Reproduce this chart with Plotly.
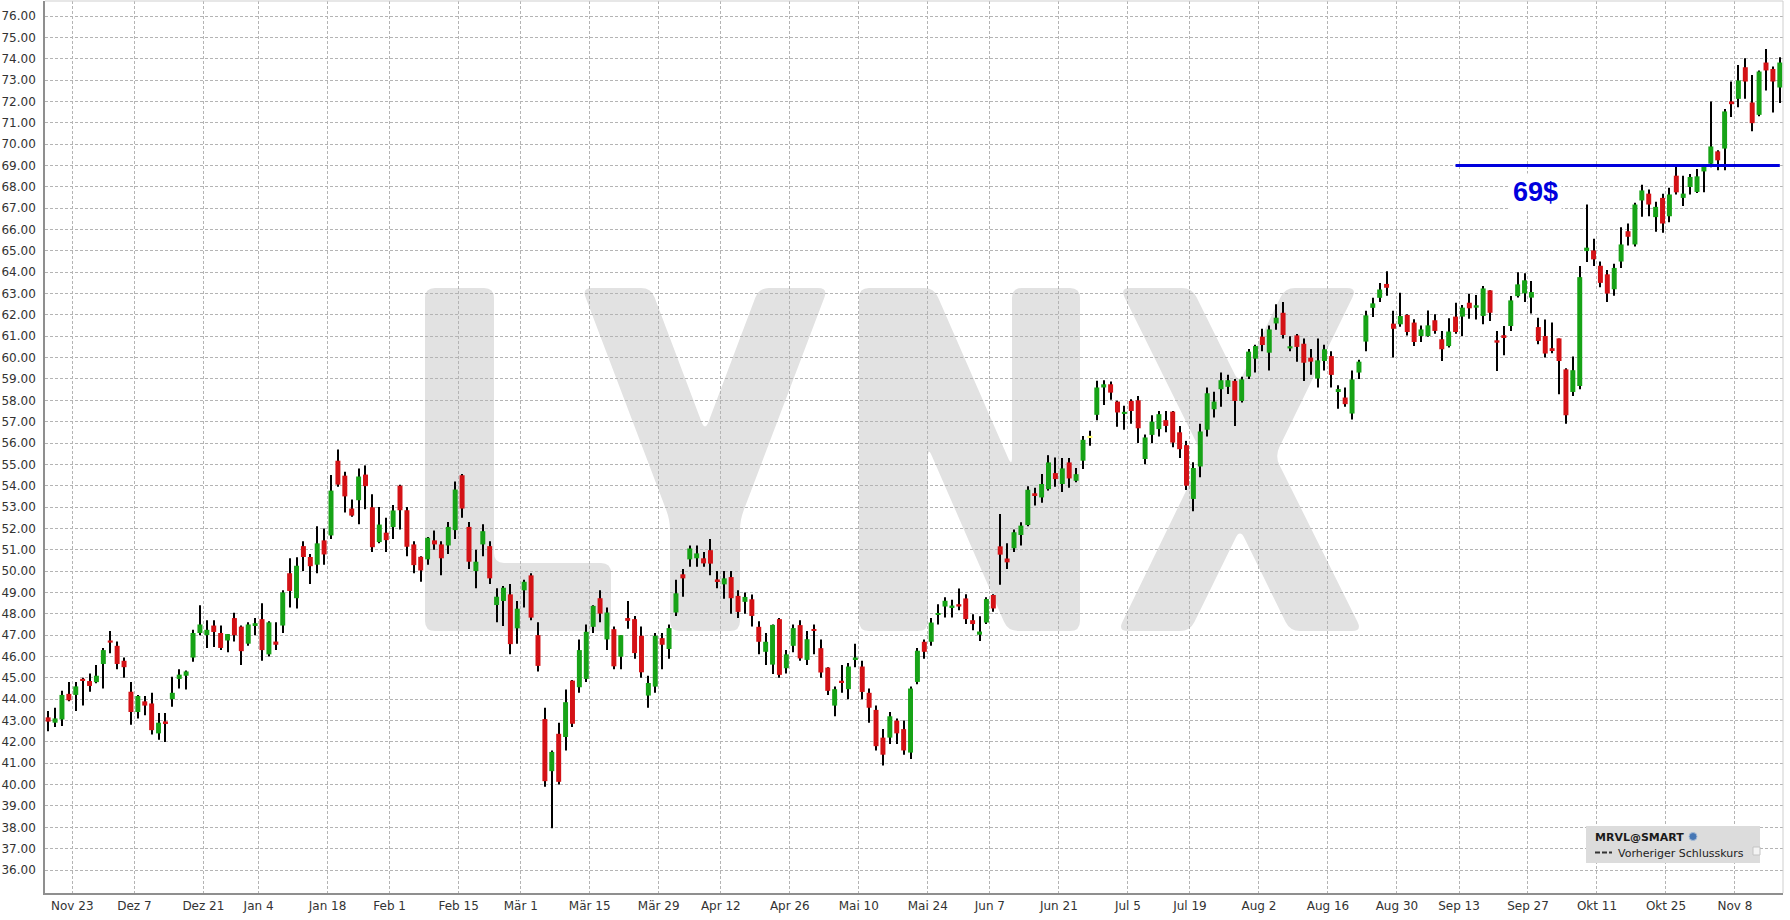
import math
import numpy as np
import pandas as pd
import plotly.graph_objects as go

# ---------------- data ----------------
first_day = "2020-11-17"
last_day = "2021-11-16"
market_holidays = ["2020-11-26", "2020-12-25", "2021-01-01", "2021-01-18", "2021-02-15",
                   "2021-04-02", "2021-05-31", "2021-07-05", "2021-09-06"]

opens = [
    43.15, 42.9, 43.05, 44.25, 44.2, 44.95, 44.85, 44.8, 45.65, 46.75,
    46.5, 45.8, 44.35, 43.4, 43.9, 43.8, 42.4, 42.95, 44.0, 44.95,
    45.1, 45.95, 47.1, 47.0, 47.45, 47.1, 46.75, 47.8, 47.4, 46.6,
    47.48, 47.75, 46.1, 46.7, 47.45, 49.9, 48.73, 51.17, 50.66, 50.3,
    51.44, 51.67, 55.17, 54.47, 52.93, 53.32, 54.52, 52.99, 51.36, 51.8,
    52.06, 54.0, 52.85, 51.25, 50.67, 50.55, 51.44, 51.25, 51.2, 51.92,
    54.49, 52.07, 50.0, 51.25, 51.17, 48.41, 48.6, 48.91, 47.32, 49.1,
    49.8, 47.0, 43.07, 40.63, 42.38, 42.23, 44.87, 44.56, 44.95, 47.39,
    48.73, 46.8, 47.28, 45.99, 47.8, 47.75, 46.97, 44.17, 44.59, 46.86,
    46.35, 48.06, 49.85, 50.55, 50.6, 50.6, 50.98, 49.6, 49.38, 49.72,
    48.84, 48.56, 48.68, 47.39, 46.22, 45.62, 47.75, 45.45, 46.5, 47.47,
    45.84, 47.28, 46.39, 45.48, 43.7, 44.86, 44.47, 45.87, 45.53, 44.3,
    43.5, 42.2, 42.2, 43.0, 42.6, 41.5, 44.81, 46.69, 46.69, 47.95,
    48.34, 48.3, 48.45, 48.72, 47.7, 47.02, 47.59, 48.88, 51.16, 50.59,
    51.07, 51.69, 52.16, 53.64, 53.45, 53.84, 54.59, 54.08, 55.09, 54.23,
    55.17, 56.29, 57.32, 58.6, 58.75, 57.94, 57.36, 57.97, 58.0, 55.25,
    56.38, 56.65, 57.07, 57.47, 56.5, 55.9, 53.38, 54.9, 56.62, 57.58,
    58.52, 58.63, 58.91, 57.97, 59.11, 59.95, 60.98, 60.23, 61.6, 62.1,
    60.43, 61.04, 60.65, 60.0, 59.02, 59.84, 60.07, 58.44, 58.13, 57.38,
    59.3, 60.75, 62.33, 62.8, 63.45, 61.59, 61.56, 62.0, 61.64, 61.01,
    61.01, 61.75, 60.86, 60.54, 61.92, 61.92, 62.57, 62.34, 61.95, 63.15,
    60.81, 61.04, 61.48, 62.88, 63.01, 62.81, 61.43, 61.01, 60.44, 60.9,
    59.45, 58.39, 58.67, 64.99, 65.02, 64.3, 63.9, 63.2, 64.5, 65.92,
    65.3, 67.36, 67.68, 66.58, 67.48, 66.62, 68.52, 67.48, 67.99, 67.76,
    68.72, 69.08, 69.66, 69.79, 72.0, 72.12, 73.6, 71.95, 71.37, 73.82,
    73.52, 72.65,
]
closes = [
    42.95, 43.1, 44.2, 43.95, 44.6, 44.87, 44.62, 45.1, 46.3, 46.65,
    45.65, 45.5, 43.4, 44.15, 43.7, 42.55, 42.9, 42.88, 44.3, 45.15,
    45.3, 47.1, 47.5, 47.25, 47.15, 46.4, 47.05, 47.0, 46.25, 47.5,
    47.55, 46.3, 47.6, 46.55, 49.0, 49.07, 50.25, 50.66, 50.23, 51.3,
    50.78, 53.77, 54.05, 53.5, 52.6, 54.43, 53.98, 51.12, 52.18, 51.45,
    52.84, 52.85, 51.14, 50.28, 50.03, 51.56, 51.25, 50.6, 52.07, 53.82,
    52.93, 50.44, 50.44, 51.87, 49.66, 48.8, 49.22, 46.58, 48.24, 49.5,
    47.82, 45.56, 40.16, 41.53, 40.13, 43.86, 42.85, 46.3, 47.16, 48.37,
    48.01, 48.06, 45.54, 47.0, 47.67, 46.16, 45.26, 44.76, 46.97, 46.55,
    47.33, 48.96, 49.66, 51.06, 50.83, 50.36, 50.35, 49.53, 49.66, 48.73,
    48.09, 48.79, 47.9, 46.69, 46.69, 47.48, 45.14, 46.1, 47.33, 45.91,
    46.81, 47.2, 45.25, 44.39, 44.47, 44.78, 45.53, 45.95, 44.34, 43.6,
    41.8, 41.4, 43.2, 42.4, 41.6, 44.5, 46.27, 46.22, 47.59, 48.03,
    48.61, 48.38, 48.34, 47.75, 47.52, 47.17, 48.69, 48.25, 50.77, 50.41,
    51.82, 52.13, 53.81, 53.56, 54.08, 55.09, 54.31, 54.81, 54.34, 54.54,
    56.15, 56.29, 58.6, 58.75, 58.36, 57.43, 57.46, 57.5, 56.69, 56.26,
    57.0, 57.35, 56.8, 56.02, 55.71, 54.0, 54.83, 56.54, 58.33, 57.94,
    58.94, 58.94, 57.97, 58.98, 60.28, 60.54, 60.59, 61.32, 61.87, 61.06,
    60.53, 60.5, 59.76, 59.81, 59.87, 60.39, 59.19, 58.52, 57.82, 58.98,
    59.81, 61.98, 62.54, 63.19, 63.27, 61.35, 61.95, 61.2, 60.73, 61.32,
    61.51, 61.25, 60.39, 61.22, 61.2, 62.34, 62.31, 62.45, 63.24, 62.1,
    60.7, 60.97, 62.68, 63.43, 63.62, 63.07, 60.78, 60.19, 60.31, 59.84,
    57.3, 59.41, 63.77, 65.15, 64.6, 63.5, 63.0, 64.2, 65.3, 65.66,
    67.17, 67.83, 67.17, 67.06, 66.28, 67.64, 67.74, 67.68, 68.46, 68.49,
    69.0, 69.89, 69.24, 71.53, 71.87, 72.98, 72.93, 70.98, 73.4, 73.45,
    72.93, 73.82,
]
highs = [
    43.45, 43.6, 44.4, 44.8, 44.8, 45.0, 45.2, 45.6, 46.4, 47.2,
    46.7, 45.95, 44.8, 44.2, 44.15, 44.3, 43.35, 43.35, 45.05, 45.4,
    45.35, 47.25, 48.4, 47.7, 47.7, 47.45, 47.05, 48.05, 47.45, 47.6,
    47.8, 48.5, 47.65, 47.6, 49.1, 50.6, 50.65, 51.4, 50.8, 52.1,
    52.0, 54.5, 55.7, 54.65, 53.35, 54.8, 54.95, 53.6, 53.0, 52.5,
    53.1, 54.05, 53.0, 51.4, 50.7, 51.6, 51.9, 51.4, 52.3, 54.2,
    54.55, 52.3, 51.0, 52.2, 51.4, 49.2, 49.3, 49.4, 48.6, 49.6,
    49.9, 47.6, 43.6, 41.6, 42.9, 44.45, 44.9, 46.8, 47.5, 48.4,
    49.1, 48.3, 47.4, 47.0, 48.6, 47.9, 47.4, 45.1, 47.1, 47.1,
    47.5, 49.6, 50.1, 51.2, 51.2, 50.9, 51.5, 50.0, 50.0, 50.0,
    49.1, 49.0, 48.9, 47.65, 47.1, 47.5, 47.8, 46.3, 47.5, 47.7,
    47.2, 47.5, 46.8, 45.5, 44.6, 45.6, 45.7, 46.6, 45.8, 44.5,
    43.7, 42.6, 43.4, 43.1, 43.0, 44.6, 46.4, 46.8, 47.8, 48.45,
    48.77, 48.66, 49.19, 48.92, 47.98, 47.88, 48.77, 48.92, 52.67, 51.3,
    51.95, 52.29, 53.97, 53.9, 54.55, 55.43, 55.32, 55.3, 55.3, 54.83,
    56.33, 56.57, 58.91, 58.94, 58.88, 57.98, 57.74, 58.05, 58.2, 56.4,
    57.3, 57.5, 57.5, 57.5, 56.8, 56.1, 55.1, 56.9, 58.6, 58.4,
    59.3, 59.2, 59.0, 59.1, 60.4, 60.6, 61.35, 61.5, 62.5, 62.6,
    61.0, 61.1, 60.9, 60.4, 60.9, 60.6, 60.3, 58.7, 58.6, 59.4,
    59.9, 62.2, 62.8, 63.5, 64.05, 62.2, 63.04, 62.03, 61.8, 61.5,
    62.21, 62.03, 61.25, 61.84, 62.57, 62.46, 62.99, 62.93, 63.35, 63.15,
    61.25, 61.48, 62.88, 64.0, 63.95, 63.59, 61.87, 61.79, 61.64, 60.9,
    59.5, 60.05, 64.29, 67.17, 65.57, 64.5, 64.1, 64.4, 66.1, 66.28,
    67.25, 68.1, 67.87, 67.3, 67.68, 67.95, 68.99, 68.52, 68.6, 68.83,
    69.07, 72.0, 69.71, 71.64, 72.93, 73.71, 74.02, 73.24, 73.45, 74.46,
    73.63, 74.07,
]
lows = [
    42.5, 42.7, 42.75, 43.9, 43.45, 43.7, 44.35, 44.75, 44.5, 46.15,
    45.4, 45.0, 42.8, 43.1, 43.25, 42.35, 42.1, 42.0, 43.65, 44.5,
    44.45, 45.75, 47.0, 46.4, 46.45, 46.3, 46.2, 46.7, 45.6, 46.5,
    47.0, 45.8, 46.0, 46.3, 47.1, 48.3, 48.25, 50.0, 49.4, 49.9,
    50.3, 51.5, 53.95, 52.75, 52.55, 52.2, 52.9, 50.9, 51.3, 50.9,
    51.5, 51.95, 50.7, 49.9, 49.5, 50.3, 51.0, 49.8, 50.8, 51.5,
    52.5, 50.1, 49.2, 50.7, 49.4, 47.6, 47.43, 46.1, 46.6, 48.3,
    47.7, 45.3, 39.9, 37.95, 40.0, 41.6, 42.7, 44.3, 44.8, 47.1,
    47.6, 46.3, 45.4, 45.4, 47.3, 45.9, 45.0, 43.6, 44.3, 45.4,
    45.9, 47.9, 48.8, 50.2, 50.2, 50.2, 49.8, 49.2, 48.7, 48.0,
    47.8, 48.0, 47.4, 46.1, 45.6, 45.18, 45.0, 45.2, 46.2, 45.8,
    45.6, 46.1, 45.0, 44.2, 43.2, 44.3, 44.0, 45.5, 44.0, 42.9,
    41.6, 40.9, 41.9, 41.9, 41.4, 41.2, 44.7, 45.9, 46.5, 47.5,
    47.83, 47.83, 48.17, 47.52, 47.23, 46.73, 47.52, 48.1, 49.36, 50.1,
    50.9, 51.2, 52.1, 53.07, 53.2, 53.77, 53.95, 53.7, 53.9, 54.16,
    54.78, 55.87, 57.07, 57.78, 58.02, 56.76, 56.62, 56.9, 56.0, 55.0,
    56.0, 56.3, 56.5, 55.8, 55.3, 53.8, 52.8, 54.4, 56.3, 57.2,
    57.7, 58.3, 56.8, 57.9, 59.0, 59.3, 60.3, 59.4, 61.3, 60.9,
    60.3, 59.8, 58.9, 59.2, 58.6, 59.4, 58.6, 57.6, 57.7, 57.1,
    59.0, 60.3, 61.9, 62.6, 62.9, 60.0, 61.45, 61.04, 60.54, 60.73,
    60.98, 61.12, 59.84, 60.47, 61.12, 61.01, 61.82, 61.79, 61.56, 61.71,
    59.37, 60.11, 61.25, 62.81, 62.6, 62.06, 60.62, 60.0, 60.2, 58.28,
    56.9, 58.2, 58.52, 64.48, 64.29, 63.3, 62.6, 62.9, 64.2, 65.25,
    65.2, 66.6, 66.62, 65.9, 65.85, 66.34, 67.64, 67.1, 67.64, 67.71,
    67.74, 68.91, 68.77, 68.77, 71.27, 71.73, 72.12, 70.6, 71.3, 72.51,
    71.48, 71.92,
]

tick_dates = ["2020-11-23", "2020-12-07", "2020-12-21", "2021-01-04", "2021-01-18", "2021-02-01",
              "2021-02-15", "2021-03-01", "2021-03-15", "2021-03-29", "2021-04-12", "2021-04-26",
              "2021-05-10", "2021-05-24", "2021-06-07", "2021-06-21", "2021-07-05", "2021-07-19",
              "2021-08-02", "2021-08-16", "2021-08-30", "2021-09-13", "2021-09-27", "2021-10-11",
              "2021-10-25", "2021-11-08"]
tick_labels = ["Nov 23", "Dez 7", "Dez 21", "Jan 4", "Jan 18", "Feb 1", "Feb 15", "Mär 1",
               "Mär 15", "Mär 29", "Apr 12", "Apr 26", "Mai 10", "Mai 24", "Jun 7", "Jun 21",
               "Jul 5", "Jul 19", "Aug 2", "Aug 16", "Aug 30", "Sep 13", "Sep 27", "Okt 11",
               "Okt 25", "Nov 8"]
price_ticks = list(range(36, 77))

level_price = 69
level_start = "2021-09-10"
level_end = "2021-11-16"
level_label = "69$"

symbol_label = "MRVL@SMART"
prev_close_label = "Vorheriger Schlusskurs"

# ---------------- styles ----------------
GREEN = "#17a317"
RED = "#d41216"
YELLOW = "#ffff70"
WICK = "#000000"
BLUE = "#0000dd"
WATERMARK = "#e2e2e2"
GRID = "#b4b4b4"

W, H = 1790, 920
PL, PR, PT, PB = 45, 1783, 1, 893  # plot area in pixels


def P(x, y):
    return (x - PL) / (PR - PL), (PB - y) / (PB - PT)


def rounded_path(points, r=10):
    m = len(points)
    parts = []
    for i in range(m):
        x0, y0 = points[i - 1]
        x1, y1 = points[i]
        x2, y2 = points[(i + 1) % m]
        d1 = math.hypot(x0 - x1, y0 - y1)
        d2 = math.hypot(x2 - x1, y2 - y1)
        rr = min(r, d1 / 2, d2 / 2)
        a = (x1 + (x0 - x1) * rr / d1, y1 + (y0 - y1) * rr / d1)
        b = (x1 + (x2 - x1) * rr / d2, y1 + (y2 - y1) * rr / d2)
        parts.append((a, (x1, y1), b))
    s = ""
    for k, (a, v, b) in enumerate(parts):
        A, V, B = P(*a), P(*v), P(*b)
        s += ("M " if k == 0 else " L ") + f"{A[0]:.5f},{A[1]:.5f}"
        s += f" Q {V[0]:.5f},{V[1]:.5f} {B[0]:.5f},{B[1]:.5f}"
    return s + " Z"


# ---------------- derived ----------------
dates = pd.bdate_range(first_day, last_day)
dates = dates[~dates.isin(pd.to_datetime(market_holidays))]
n = min(len(dates), len(opens), len(closes), len(highs), len(lows))
dates = dates[:n]
xi = np.arange(n)
o = np.array(opens[:n], dtype=float)
c = np.array(closes[:n], dtype=float)
h = np.array(highs[:n], dtype=float)
l = np.array(lows[:n], dtype=float)
body_lo = np.minimum(o, c)
body_hi = np.maximum(o, c)
body_h = np.maximum(body_hi - body_lo, 0.09)
body_base = (body_lo + body_hi) / 2 - body_h / 2
wick_hi = np.maximum(h, body_hi)
wick_lo = np.minimum(l, body_lo)
colors = np.where(c > o, GREEN, np.where(c < o, RED, YELLOW))
date_txt = [d.strftime("%d.%m.%Y") for d in dates]

tick_pos = [int(np.searchsorted(dates.values, np.datetime64(d))) - 0.5 for d in tick_dates]
lv_x0 = int(np.searchsorted(dates.values, np.datetime64(level_start)))
lv_x1 = int(np.searchsorted(dates.values, np.datetime64(level_end)))

fig = go.Figure()
fig.add_trace(go.Bar(
    x=xi, base=wick_lo, y=wick_hi - wick_lo, width=0.15,
    marker=dict(color=WICK, line=dict(width=0)), hoverinfo="skip", showlegend=False,
))
fig.add_trace(go.Bar(
    x=xi, base=body_base, y=body_h, width=0.72,
    marker=dict(color=list(colors), line=dict(width=0)),
    customdata=np.stack([o, h, l, c], axis=1), text=date_txt, textposition="none",
    hovertemplate="%{text}<br>O %{customdata[0]:.2f} H %{customdata[1]:.2f}"
                  "<br>L %{customdata[2]:.2f} C %{customdata[3]:.2f}<extra></extra>",
    showlegend=False,
))
fig.add_trace(go.Scatter(
    x=[lv_x0, lv_x1], y=[level_price, level_price], mode="lines",
    line=dict(color=BLUE, width=3), hoverinfo="skip", showlegend=False,
))

# watermark "LYNX"
letters = [
    [(425, 288), (494, 288), (494, 563), (611, 563), (611, 631), (425, 631)],
    [(582, 288), (651, 288), (705, 431), (759, 288), (828, 288), (740, 520), (740, 631),
     (670, 631), (670, 520)],
    [(859, 288), (934, 288), (1012, 467), (1012, 288), (1080, 288), (1080, 631), (1008, 631),
     (928, 447), (928, 631), (859, 631)],
    [(1120, 288), (1192, 288), (1239, 383), (1285, 288), (1357, 288), (1275, 456), (1362, 631),
     (1290, 631), (1240, 529), (1190, 631), (1118, 631), (1203, 456)],
]
shapes = []
for pts in letters:
    shapes.append(dict(type="path", xref="paper", yref="paper", path=rounded_path(pts, 10),
                       fillcolor=WATERMARK, line=dict(width=0), layer="below"))

# frame top / right
shapes.append(dict(type="line", xref="paper", yref="paper", x0=0, x1=1, y0=1, y1=1,
                   line=dict(color="#cfcfcf", width=1), layer="above"))
shapes.append(dict(type="line", xref="paper", yref="paper", x0=1, x1=1, y0=0, y1=1,
                   line=dict(color="#cfcfcf", width=1), layer="above"))

# legend box
bx0, by0 = P(1586, 826)
bx1, by1 = P(1760, 863)
shapes.append(dict(type="rect", xref="paper", yref="paper", x0=bx0, x1=bx1, y0=by1, y1=by0,
                   fillcolor="#dcdcdc", line=dict(width=0), layer="above"))
gx0, gy0 = P(1689, 832.5)
gx1, gy1 = P(1697, 840.5)
shapes.append(dict(type="circle", xref="paper", yref="paper", x0=gx0, x1=gx1, y0=gy1, y1=gy0,
                   fillcolor="#4677b5", line=dict(color="#a9bdd6", width=1), layer="above"))
dx0, dy0 = P(1595, 852.5)
dx1, _ = P(1612, 852.5)
shapes.append(dict(type="line", xref="paper", yref="paper", x0=dx0, x1=dx1, y0=dy0, y1=dy0,
                   line=dict(color="#333333", width=2, dash="5px,2px"), layer="above"))
cx0, cy0 = P(1753, 847)
cx1, cy1 = P(1760, 855)
shapes.append(dict(type="rect", xref="paper", yref="paper", x0=cx0, x1=cx1, y0=cy1, y1=cy0,
                   fillcolor="#f4f4f4", line=dict(color="#c4c4c4", width=1), layer="above"))

ax, ay = P(1535, 192)
t1x, t1y = P(1593, 837)
t2x, t2y = P(1616, 853)
annotations = [
    dict(xref="paper", yref="paper", x=ax, y=ay, text=f"<b>{level_label}</b>", showarrow=False,
         font=dict(family="Liberation Sans, Arial", size=27, color=BLUE),
         bgcolor="#ffffff", borderpad=3, xanchor="center", yanchor="middle"),
    dict(xref="paper", yref="paper", x=t1x, y=t1y, text=f"<b>{symbol_label}</b>", showarrow=False,
         font=dict(family="DejaVu Sans", size=11, color="#1a1a1a"), xanchor="left", yanchor="middle"),
    dict(xref="paper", yref="paper", x=t2x, y=t2y, text=prev_close_label, showarrow=False,
         font=dict(family="DejaVu Sans", size=11, color="#222222"), xanchor="left", yanchor="middle"),
]

ymin = 76 - (PB - 16) / 21.35
ymax = 76 + (16 - PT) / 21.35
xmin = 3.5 - (72.3 - PL) / 6.899
xmax = 3.5 + (PR - 72.3) / 6.899

fig.update_layout(
    width=W, height=H,
    margin=dict(l=PL, r=W - PR, t=PT, b=H - PB, pad=0),
    paper_bgcolor="#ffffff", plot_bgcolor="#ffffff",
    barmode="overlay", showlegend=False,
    shapes=shapes, annotations=annotations,
    font=dict(family="DejaVu Sans", size=12, color="#333333"),
    xaxis=dict(
        range=[xmin, xmax], tickmode="array", tickvals=tick_pos, ticktext=tick_labels,
        showgrid=True, gridcolor=GRID, griddash="3px,2px", gridwidth=1,
        showline=True, linecolor="#8f8f8f", linewidth=1.5, ticks="", zeroline=False,
        tickfont=dict(family="DejaVu Sans", size=12, color="#333333"),
        ticklabelstandoff=1, fixedrange=True,
    ),
    yaxis=dict(
        range=[ymin, ymax], tickmode="array", tickvals=price_ticks, tickformat=".2f",
        showgrid=True, gridcolor=GRID, griddash="3px,2px", gridwidth=1,
        showline=True, linecolor="#8f8f8f", linewidth=1.5, ticks="", zeroline=False,
        tickfont=dict(family="DejaVu Sans", size=12, color="#333333"),
        ticklabelstandoff=5, fixedrange=True,
    ),
)

fig.write_html("out.html", config={"displayModeBar": False},
               post_script="document.body.style.margin='0';")
